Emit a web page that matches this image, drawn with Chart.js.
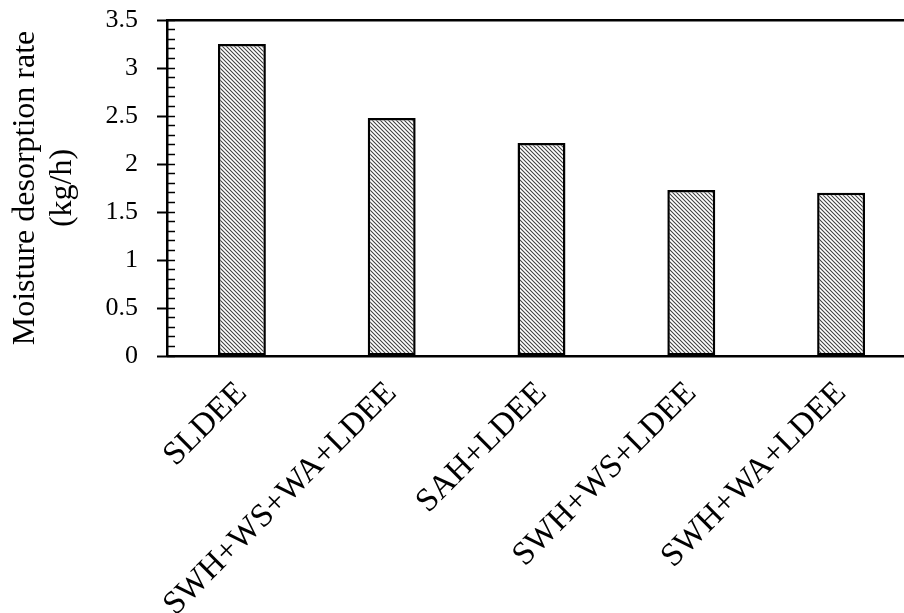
<!DOCTYPE html>
<html>
<head>
<meta charset="utf-8">
<script src="https://cdn.jsdelivr.net/npm/chart.js@4.4.1/dist/chart.umd.min.js"></script>
<style>
  html, body { margin: 0; padding: 0; background: #fff; overflow: hidden; width: 904px; height: 613px; }
  canvas { display: block; }
</style>
</head>
<body>
<canvas id="chart" width="930" height="613" style="width:930px;height:613px"></canvas>
<script>
// Moisture desorption rate of each system configuration
const categories = ['SLDEE', 'SWH+WS+WA+LDEE', 'SAH+LDEE', 'SWH+WS+LDEE', 'SWH+WA+LDEE'];
const desorptionRate = [3.25, 2.48, 2.22, 1.73, 1.70];
const yTitleLines = ['Moisture desorption rate', '(kg/h)'];
const yMin = 0;
const yMax = 3.5;
const yMajorStep = 0.5;
const yMinorStep = 0.1;

const serif = "'Liberation Serif', 'Times New Roman', serif";
const canvas = document.getElementById('chart');
const ctx = canvas.getContext('2d');

// diagonal "\" hatch used to fill the bars
function makeHatch() {
  const tile = document.createElement('canvas');
  tile.width = 4;
  tile.height = 4;
  const g = tile.getContext('2d');
  g.fillStyle = '#ffffff';
  g.fillRect(0, 0, 4, 4);
  g.strokeStyle = '#404040';
  g.lineWidth = 1.05;
  g.beginPath();
  g.moveTo(-1, -1); g.lineTo(5, 5);
  g.moveTo(-1, 3); g.lineTo(1, 5);
  g.moveTo(3, -1); g.lineTo(5, 1);
  g.stroke();
  return ctx.createPattern(tile, 'repeat');
}

// the value axes keep the plot edge fixed instead of reserving room for edge labels
function fixVerticalFit(scale, width) {
  if (width !== undefined) scale.width = width;
  scale.paddingTop = 0;
  scale.paddingBottom = 0;
}

new Chart(ctx, {
  type: 'bar',
  data: {
    labels: categories,
    datasets: [{
      data: desorptionRate,
      backgroundColor: makeHatch(),
      borderColor: '#000',
      borderWidth: 2.5,
      borderSkipped: false,
      barPercentage: 0.32,
      categoryPercentage: 1
    }]
  },
  options: {
    responsive: false,
    animation: false,
    devicePixelRatio: 1,
    layout: { padding: { top: 20, right: 14, left: 0, bottom: 0 } },
    plugins: { legend: { display: false }, tooltip: { enabled: false } },
    scales: {
      x: {
        position: 'bottom',
        offset: true,
        grid: { display: false, drawTicks: false },
        border: { display: true, color: '#000', width: 2.5 },
        ticks: {
          color: '#000',
          font: { family: serif, size: 33 },
          minRotation: 45,
          maxRotation: 45,
          autoSkip: false,
          padding: 18,
          labelOffset: 0
        },
        afterFit(scale) { scale.height = 257; }
      },
      xTop: {
        type: 'category',
        position: 'top',
        grid: { display: false, drawTicks: false },
        border: { display: true, color: '#000', width: 2.5 },
        ticks: { display: false },
        afterFit(scale) { scale.height = 0; }
      },
      y: {
        position: 'left',
        min: yMin,
        max: yMax,
        ticks: {
          stepSize: yMajorStep,
          color: '#000',
          font: { family: serif, size: 26 },
          padding: 19,
          callback: (v) => String(Number(v.toFixed(2)))
        },
        grid: { drawOnChartArea: false, tickLength: 10, tickColor: '#000', tickWidth: 2 },
        border: { display: true, color: '#000', width: 2.5 },
        title: {
          display: true,
          text: yTitleLines,
          color: '#000',
          font: { family: serif, size: 32, lineHeight: 1.15 },
          padding: { top: 7, bottom: 0 }
        },
        afterFit(scale) { fixVerticalFit(scale, 167); }
      },
      yMinor: {
        position: { x: -0.5 },
        min: yMin,
        max: yMax,
        ticks: { display: false, stepSize: yMinorStep, autoSkip: false, maxTicksLimit: 50 },
        grid: { drawOnChartArea: false, tickLength: -8, tickColor: '#000', tickWidth: 1.5 },
        border: { display: false },
        afterFit(scale) { fixVerticalFit(scale); }
      }
    }
  }
});
</script>
</body>
</html>
